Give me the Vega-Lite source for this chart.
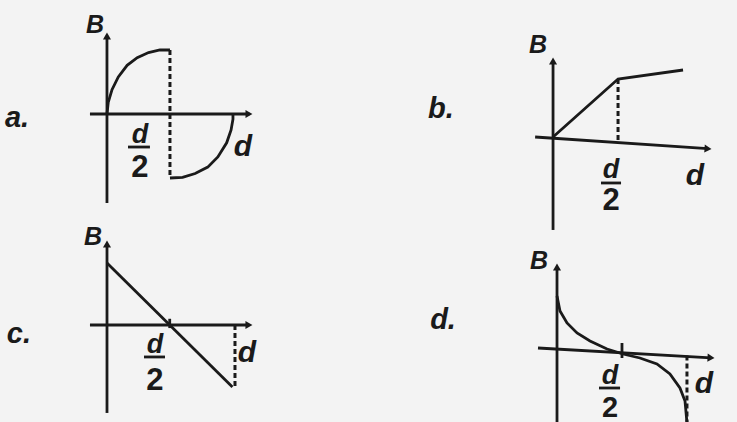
{
  "$schema": "https://vega.github.io/schema/vega-lite/v6.json",
  "background": "#f3f3f3",
  "padding": 0,
  "spacing": 0,
  "config": {"view": {"stroke": null}, "concat": {"spacing": 0}},
  "datasets": {
    "pa": [
      {"kind": "solid", "id": "yaxis", "o": 0, "d": 0, "B": 1.22},
      {"kind": "solid", "id": "yaxis", "o": 1, "d": 0, "B": -1.391},
      {"kind": "solid", "id": "xaxis", "o": 0, "d": -0.135, "B": 0},
      {"kind": "solid", "id": "xaxis", "o": 1, "d": 1.13, "B": 0},
      {"kind": "solid", "id": "upper", "o": 0, "d": 0, "B": 0},
      {"kind": "solid", "id": "upper", "o": 1, "d": 0.01, "B": 0.18},
      {"kind": "solid", "id": "upper", "o": 2, "d": 0.04, "B": 0.38},
      {"kind": "solid", "id": "upper", "o": 3, "d": 0.09, "B": 0.58},
      {"kind": "solid", "id": "upper", "o": 4, "d": 0.16, "B": 0.76},
      {"kind": "solid", "id": "upper", "o": 5, "d": 0.24, "B": 0.88},
      {"kind": "solid", "id": "upper", "o": 6, "d": 0.33, "B": 0.96},
      {"kind": "solid", "id": "upper", "o": 7, "d": 0.42, "B": 1.0},
      {"kind": "solid", "id": "upper", "o": 8, "d": 0.5, "B": 1.0},
      {"kind": "solid", "id": "lower", "o": 0, "d": 0.5, "B": -1.0},
      {"kind": "solid", "id": "lower", "o": 1, "d": 0.6, "B": -0.99},
      {"kind": "solid", "id": "lower", "o": 2, "d": 0.7, "B": -0.93},
      {"kind": "solid", "id": "lower", "o": 3, "d": 0.8, "B": -0.83},
      {"kind": "solid", "id": "lower", "o": 4, "d": 0.88, "B": -0.67},
      {"kind": "solid", "id": "lower", "o": 5, "d": 0.95, "B": -0.45},
      {"kind": "solid", "id": "lower", "o": 6, "d": 0.985, "B": -0.25},
      {"kind": "solid", "id": "lower", "o": 7, "d": 1.0, "B": -0.08},
      {"kind": "solid", "id": "lower", "o": 8, "d": 1.0, "B": 0},
      {"kind": "solid", "id": "fracbar", "o": 0, "d": 0.167, "B": -0.516},
      {"kind": "solid", "id": "fracbar", "o": 1, "d": 0.341, "B": -0.516},
      {"kind": "dash", "id": "half", "o": 0, "d": 0.5, "B": 1.0},
      {"kind": "dash", "id": "half", "o": 1, "d": 0.5, "B": -1.0},
      {"kind": "up", "d": 0, "B": 1.219},
      {"kind": "right", "d": 1.127, "B": 0},
      {"kind": "panel", "label": "a.", "d": -0.714, "B": -0.203},
      {"kind": "axis", "label": "B", "d": -0.095, "B": 1.266},
      {"kind": "var", "label": "d", "d": 1.079, "B": -0.656},
      {"kind": "frac", "label": "d", "d": 0.262, "B": -0.453},
      {"kind": "num", "label": "2", "d": 0.262, "B": -0.984}
    ],
    "pb": [
      {"kind": "solid", "id": "yaxis", "o": 0, "d": 0, "B": 1.31},
      {"kind": "solid", "id": "yaxis", "o": 1, "d": 0, "B": -1.603},
      {"kind": "solid", "id": "xaxis", "o": 0, "d": -0.138, "B": 0},
      {"kind": "solid", "id": "xaxis", "o": 1, "d": 1.19, "B": -0.2},
      {"kind": "solid", "id": "curve", "o": 0, "d": 0, "B": 0},
      {"kind": "solid", "id": "curve", "o": 1, "d": 0.5, "B": 1.0},
      {"kind": "solid", "id": "curve", "o": 2, "d": 1.0, "B": 1.155},
      {"kind": "solid", "id": "fracbar", "o": 0, "d": 0.369, "B": -0.793},
      {"kind": "solid", "id": "fracbar", "o": 1, "d": 0.523, "B": -0.793},
      {"kind": "dash", "id": "half", "o": 0, "d": 0.5, "B": 1.0},
      {"kind": "dash", "id": "half", "o": 1, "d": 0.5, "B": -0.076},
      {"kind": "up", "d": 0, "B": 1.31},
      {"kind": "right", "d": 1.192, "B": -0.202},
      {"kind": "panel", "label": "b.", "d": -0.862, "B": 0.328},
      {"kind": "axis", "label": "B", "d": -0.115, "B": 1.448},
      {"kind": "var", "label": "d", "d": 1.092, "B": -0.828},
      {"kind": "frac", "label": "d", "d": 0.446, "B": -0.707},
      {"kind": "num", "label": "2", "d": 0.446, "B": -1.259}
    ],
    "pc": [
      {"kind": "solid", "id": "yaxis", "o": 0, "d": 0, "B": 1.306},
      {"kind": "solid", "id": "yaxis", "o": 1, "d": 0, "B": -1.419},
      {"kind": "solid", "id": "xaxis", "o": 0, "d": -0.133, "B": 0},
      {"kind": "solid", "id": "xaxis", "o": 1, "d": 1.109, "B": 0},
      {"kind": "solid", "id": "curve", "o": 0, "d": 0, "B": 1.0},
      {"kind": "solid", "id": "curve", "o": 1, "d": 0.98, "B": -1.0},
      {"kind": "solid", "id": "tick", "o": 0, "d": 0.49, "B": -0.05},
      {"kind": "solid", "id": "tick", "o": 1, "d": 0.49, "B": 0.1},
      {"kind": "solid", "id": "fracbar", "o": 0, "d": 0.289, "B": -0.516},
      {"kind": "solid", "id": "fracbar", "o": 1, "d": 0.453, "B": -0.516},
      {"kind": "dash", "id": "end", "o": 0, "d": 1.0, "B": 0},
      {"kind": "dash", "id": "end", "o": 1, "d": 1.0, "B": -1.0},
      {"kind": "up", "d": 0, "B": 1.306},
      {"kind": "right", "d": 1.109, "B": 0},
      {"kind": "panel", "label": "c.", "d": -0.688, "B": -0.29},
      {"kind": "axis", "label": "B", "d": -0.109, "B": 1.29},
      {"kind": "var", "label": "d", "d": 1.094, "B": -0.597},
      {"kind": "frac", "label": "d", "d": 0.375, "B": -0.452},
      {"kind": "num", "label": "2", "d": 0.375, "B": -1.048}
    ],
    "pd": [
      {"kind": "solid", "id": "yaxis", "o": 0, "d": 0, "B": 1.62},
      {"kind": "solid", "id": "yaxis", "o": 1, "d": 0, "B": -1.49},
      {"kind": "solid", "id": "xaxis", "o": 0, "d": -0.146, "B": 0},
      {"kind": "solid", "id": "xaxis", "o": 1, "d": 1.185, "B": -0.196},
      {"kind": "solid", "id": "curve", "o": 0, "d": 0, "B": 1.04},
      {"kind": "solid", "id": "curve", "o": 1, "d": 0.023, "B": 0.74},
      {"kind": "solid", "id": "curve", "o": 2, "d": 0.077, "B": 0.5},
      {"kind": "solid", "id": "curve", "o": 3, "d": 0.154, "B": 0.3},
      {"kind": "solid", "id": "curve", "o": 4, "d": 0.254, "B": 0.14},
      {"kind": "solid", "id": "curve", "o": 5, "d": 0.385, "B": -0.02},
      {"kind": "solid", "id": "curve", "o": 6, "d": 0.508, "B": -0.12},
      {"kind": "solid", "id": "curve", "o": 7, "d": 0.638, "B": -0.2},
      {"kind": "solid", "id": "curve", "o": 8, "d": 0.769, "B": -0.32},
      {"kind": "solid", "id": "curve", "o": 9, "d": 0.869, "B": -0.52},
      {"kind": "solid", "id": "curve", "o": 10, "d": 0.946, "B": -0.8},
      {"kind": "solid", "id": "curve", "o": 11, "d": 0.985, "B": -1.06},
      {"kind": "solid", "id": "curve", "o": 12, "d": 1.0, "B": -1.49},
      {"kind": "solid", "id": "tick", "o": 0, "d": 0.5, "B": 0.1},
      {"kind": "solid", "id": "tick", "o": 1, "d": 0.5, "B": -0.2},
      {"kind": "solid", "id": "fracbar", "o": 0, "d": 0.323, "B": -0.8},
      {"kind": "solid", "id": "fracbar", "o": 1, "d": 0.485, "B": -0.8},
      {"kind": "dash", "id": "end", "o": 0, "d": 1.0, "B": -0.15},
      {"kind": "dash", "id": "end", "o": 1, "d": 1.0, "B": -1.49},
      {"kind": "up", "d": 0, "B": 1.62},
      {"kind": "right", "d": 1.185, "B": -0.196},
      {"kind": "panel", "label": "d.", "d": -0.877, "B": 0.38},
      {"kind": "axis", "label": "B", "d": -0.138, "B": 1.58},
      {"kind": "var", "label": "d", "d": 1.131, "B": -0.9},
      {"kind": "frac", "label": "d", "d": 0.408, "B": -0.72},
      {"kind": "num", "label": "2", "d": 0.408, "B": -1.37}
    ]
  },
  "hconcat": [
    {
      "spacing": 0,
      "vconcat": [
        {
          "width": 380, "height": 215,
          "data": {"name": "pa"},
          "encoding": {
            "x": {"field": "d", "type": "quantitative", "scale": {"domain": [-0.849, 2.167], "nice": false, "zero": false}, "axis": null},
            "y": {"field": "B", "type": "quantitative", "scale": {"domain": [-1.578, 1.781], "nice": false, "zero": false}, "axis": null}
          },
          "layer": [
            {"transform": [{"filter": "datum.kind === 'solid'"}], "mark": {"type": "line", "color": "#1a1a1a", "strokeWidth": 2.8}, "encoding": {"detail": {"field": "id", "type": "nominal"}, "order": {"field": "o", "type": "quantitative"}}},
            {"transform": [{"filter": "datum.kind === 'dash'"}], "mark": {"type": "line", "color": "#1a1a1a", "strokeWidth": 3, "strokeDash": [5, 3]}, "encoding": {"detail": {"field": "id", "type": "nominal"}, "order": {"field": "o", "type": "quantitative"}}},
            {"transform": [{"filter": "datum.kind === 'up'"}], "mark": {"type": "point", "shape": "triangle-up", "filled": true, "size": 65, "color": "#1a1a1a", "opacity": 1}},
            {"transform": [{"filter": "datum.kind === 'right'"}], "mark": {"type": "point", "shape": "triangle-right", "filled": true, "size": 65, "color": "#1a1a1a", "opacity": 1}},
            {"transform": [{"filter": "datum.kind === 'panel'"}], "mark": {"type": "text", "font": "Liberation Sans", "fontSize": 29, "fontWeight": "bold", "fontStyle": "italic", "align": "center", "baseline": "alphabetic", "color": "#1a1a1a"}, "encoding": {"text": {"field": "label"}}},
            {"transform": [{"filter": "datum.kind === 'axis'"}], "mark": {"type": "text", "font": "Liberation Sans", "fontSize": 25, "fontWeight": "bold", "fontStyle": "italic", "align": "center", "baseline": "alphabetic", "color": "#1a1a1a"}, "encoding": {"text": {"field": "label"}}},
            {"transform": [{"filter": "datum.kind === 'var'"}], "mark": {"type": "text", "font": "Liberation Sans", "fontSize": 30, "fontWeight": "bold", "fontStyle": "italic", "align": "center", "baseline": "alphabetic", "color": "#1a1a1a"}, "encoding": {"text": {"field": "label"}}},
            {"transform": [{"filter": "datum.kind === 'frac'"}], "mark": {"type": "text", "font": "Liberation Sans", "fontSize": 27, "fontWeight": "bold", "fontStyle": "italic", "align": "center", "baseline": "alphabetic", "color": "#1a1a1a"}, "encoding": {"text": {"field": "label"}}},
            {"transform": [{"filter": "datum.kind === 'num'"}], "mark": {"type": "text", "font": "Liberation Sans", "fontSize": 31, "fontWeight": "bold", "align": "center", "baseline": "alphabetic", "color": "#1a1a1a"}, "encoding": {"text": {"field": "label"}}}
          ]
        },
        {
          "width": 380, "height": 207,
          "data": {"name": "pc"},
          "encoding": {
            "x": {"field": "d", "type": "quantitative", "scale": {"domain": [-0.836, 2.133], "nice": false, "zero": false}, "axis": null},
            "y": {"field": "B", "type": "quantitative", "scale": {"domain": [-1.565, 1.774], "nice": false, "zero": false}, "axis": null}
          },
          "layer": [
            {"transform": [{"filter": "datum.kind === 'solid'"}], "mark": {"type": "line", "color": "#1a1a1a", "strokeWidth": 2.8}, "encoding": {"detail": {"field": "id", "type": "nominal"}, "order": {"field": "o", "type": "quantitative"}}},
            {"transform": [{"filter": "datum.kind === 'dash'"}], "mark": {"type": "line", "color": "#1a1a1a", "strokeWidth": 3, "strokeDash": [5, 3]}, "encoding": {"detail": {"field": "id", "type": "nominal"}, "order": {"field": "o", "type": "quantitative"}}},
            {"transform": [{"filter": "datum.kind === 'up'"}], "mark": {"type": "point", "shape": "triangle-up", "filled": true, "size": 65, "color": "#1a1a1a", "opacity": 1}},
            {"transform": [{"filter": "datum.kind === 'right'"}], "mark": {"type": "point", "shape": "triangle-right", "filled": true, "size": 65, "color": "#1a1a1a", "opacity": 1}},
            {"transform": [{"filter": "datum.kind === 'panel'"}], "mark": {"type": "text", "font": "Liberation Sans", "fontSize": 29, "fontWeight": "bold", "fontStyle": "italic", "align": "center", "baseline": "alphabetic", "color": "#1a1a1a"}, "encoding": {"text": {"field": "label"}}},
            {"transform": [{"filter": "datum.kind === 'axis'"}], "mark": {"type": "text", "font": "Liberation Sans", "fontSize": 25, "fontWeight": "bold", "fontStyle": "italic", "align": "center", "baseline": "alphabetic", "color": "#1a1a1a"}, "encoding": {"text": {"field": "label"}}},
            {"transform": [{"filter": "datum.kind === 'var'"}], "mark": {"type": "text", "font": "Liberation Sans", "fontSize": 30, "fontWeight": "bold", "fontStyle": "italic", "align": "center", "baseline": "alphabetic", "color": "#1a1a1a"}, "encoding": {"text": {"field": "label"}}},
            {"transform": [{"filter": "datum.kind === 'frac'"}], "mark": {"type": "text", "font": "Liberation Sans", "fontSize": 27, "fontWeight": "bold", "fontStyle": "italic", "align": "center", "baseline": "alphabetic", "color": "#1a1a1a"}, "encoding": {"text": {"field": "label"}}},
            {"transform": [{"filter": "datum.kind === 'num'"}], "mark": {"type": "text", "font": "Liberation Sans", "fontSize": 31, "fontWeight": "bold", "align": "center", "baseline": "alphabetic", "color": "#1a1a1a"}, "encoding": {"text": {"field": "label"}}}
          ]
        }
      ]
    },
    {
      "spacing": 0,
      "vconcat": [
        {
          "width": 357, "height": 235,
          "data": {"name": "pb"},
          "encoding": {
            "x": {"field": "d", "type": "quantitative", "scale": {"domain": [-1.331, 1.415], "nice": false, "zero": false}, "axis": null},
            "y": {"field": "B", "type": "quantitative", "scale": {"domain": [-1.69, 2.362], "nice": false, "zero": false}, "axis": null}
          },
          "layer": [
            {"transform": [{"filter": "datum.kind === 'solid'"}], "mark": {"type": "line", "color": "#1a1a1a", "strokeWidth": 2.8}, "encoding": {"detail": {"field": "id", "type": "nominal"}, "order": {"field": "o", "type": "quantitative"}}},
            {"transform": [{"filter": "datum.kind === 'dash'"}], "mark": {"type": "line", "color": "#1a1a1a", "strokeWidth": 3, "strokeDash": [5, 3]}, "encoding": {"detail": {"field": "id", "type": "nominal"}, "order": {"field": "o", "type": "quantitative"}}},
            {"transform": [{"filter": "datum.kind === 'up'"}], "mark": {"type": "point", "shape": "triangle-up", "filled": true, "size": 65, "color": "#1a1a1a", "opacity": 1}},
            {"transform": [{"filter": "datum.kind === 'right'"}], "mark": {"type": "point", "shape": "triangle-right", "filled": true, "size": 65, "color": "#1a1a1a", "opacity": 1, "angle": 4}},
            {"transform": [{"filter": "datum.kind === 'panel'"}], "mark": {"type": "text", "font": "Liberation Sans", "fontSize": 29, "fontWeight": "bold", "fontStyle": "italic", "align": "center", "baseline": "alphabetic", "color": "#1a1a1a"}, "encoding": {"text": {"field": "label"}}},
            {"transform": [{"filter": "datum.kind === 'axis'"}], "mark": {"type": "text", "font": "Liberation Sans", "fontSize": 25, "fontWeight": "bold", "fontStyle": "italic", "align": "center", "baseline": "alphabetic", "color": "#1a1a1a"}, "encoding": {"text": {"field": "label"}}},
            {"transform": [{"filter": "datum.kind === 'var'"}], "mark": {"type": "text", "font": "Liberation Sans", "fontSize": 30, "fontWeight": "bold", "fontStyle": "italic", "align": "center", "baseline": "alphabetic", "color": "#1a1a1a"}, "encoding": {"text": {"field": "label"}}},
            {"transform": [{"filter": "datum.kind === 'frac'"}], "mark": {"type": "text", "font": "Liberation Sans", "fontSize": 27, "fontWeight": "bold", "fontStyle": "italic", "align": "center", "baseline": "alphabetic", "color": "#1a1a1a"}, "encoding": {"text": {"field": "label"}}},
            {"transform": [{"filter": "datum.kind === 'num'"}], "mark": {"type": "text", "font": "Liberation Sans", "fontSize": 31, "fontWeight": "bold", "align": "center", "baseline": "alphabetic", "color": "#1a1a1a"}, "encoding": {"text": {"field": "label"}}}
          ]
        },
        {
          "width": 357, "height": 187,
          "data": {"name": "pd"},
          "encoding": {
            "x": {"field": "d", "type": "quantitative", "scale": {"domain": [-1.362, 1.385], "nice": false, "zero": false}, "axis": null},
            "y": {"field": "B", "type": "quantitative", "scale": {"domain": [-1.5, 2.24], "nice": false, "zero": false}, "axis": null}
          },
          "layer": [
            {"transform": [{"filter": "datum.kind === 'solid'"}], "mark": {"type": "line", "color": "#1a1a1a", "strokeWidth": 2.8}, "encoding": {"detail": {"field": "id", "type": "nominal"}, "order": {"field": "o", "type": "quantitative"}}},
            {"transform": [{"filter": "datum.kind === 'dash'"}], "mark": {"type": "line", "color": "#1a1a1a", "strokeWidth": 3, "strokeDash": [5, 3]}, "encoding": {"detail": {"field": "id", "type": "nominal"}, "order": {"field": "o", "type": "quantitative"}}},
            {"transform": [{"filter": "datum.kind === 'up'"}], "mark": {"type": "point", "shape": "triangle-up", "filled": true, "size": 65, "color": "#1a1a1a", "opacity": 1}},
            {"transform": [{"filter": "datum.kind === 'right'"}], "mark": {"type": "point", "shape": "triangle-right", "filled": true, "size": 65, "color": "#1a1a1a", "opacity": 1, "angle": 3}},
            {"transform": [{"filter": "datum.kind === 'panel'"}], "mark": {"type": "text", "font": "Liberation Sans", "fontSize": 29, "fontWeight": "bold", "fontStyle": "italic", "align": "center", "baseline": "alphabetic", "color": "#1a1a1a"}, "encoding": {"text": {"field": "label"}}},
            {"transform": [{"filter": "datum.kind === 'axis'"}], "mark": {"type": "text", "font": "Liberation Sans", "fontSize": 25, "fontWeight": "bold", "fontStyle": "italic", "align": "center", "baseline": "alphabetic", "color": "#1a1a1a"}, "encoding": {"text": {"field": "label"}}},
            {"transform": [{"filter": "datum.kind === 'var'"}], "mark": {"type": "text", "font": "Liberation Sans", "fontSize": 30, "fontWeight": "bold", "fontStyle": "italic", "align": "center", "baseline": "alphabetic", "color": "#1a1a1a"}, "encoding": {"text": {"field": "label"}}},
            {"transform": [{"filter": "datum.kind === 'frac'"}], "mark": {"type": "text", "font": "Liberation Sans", "fontSize": 27, "fontWeight": "bold", "fontStyle": "italic", "align": "center", "baseline": "alphabetic", "color": "#1a1a1a"}, "encoding": {"text": {"field": "label"}}},
            {"transform": [{"filter": "datum.kind === 'num'"}], "mark": {"type": "text", "font": "Liberation Sans", "fontSize": 29, "fontWeight": "bold", "align": "center", "baseline": "alphabetic", "color": "#1a1a1a"}, "encoding": {"text": {"field": "label"}}}
          ]
        }
      ]
    }
  ]
}
